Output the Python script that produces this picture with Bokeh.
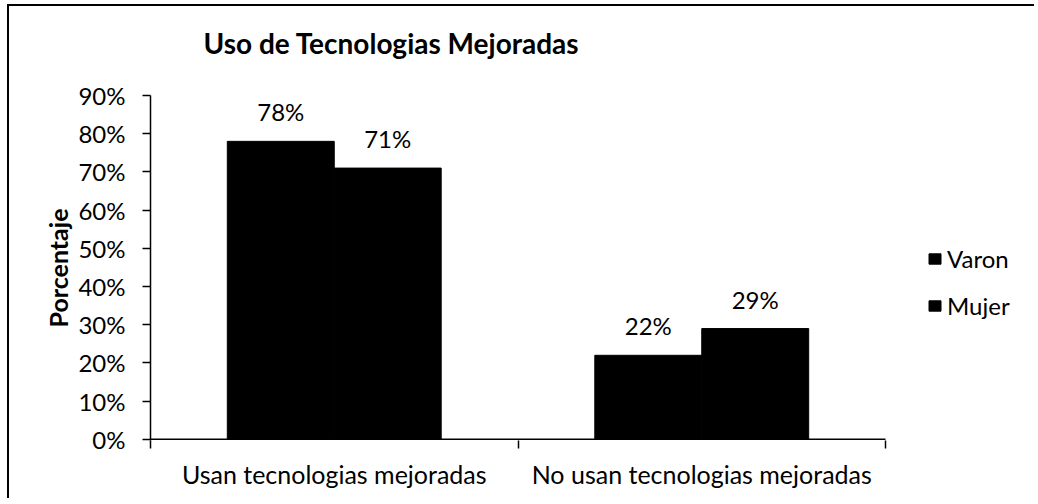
from bokeh.plotting import figure
from bokeh.models import (ColumnDataSource, Range1d, FixedTicker, NumeralTickFormatter,
                          LabelSet, Legend, LegendItem, Title)
from bokeh.core.properties import value
from bokeh.transform import dodge
from bokeh.embed import file_html
from bokeh.resources import INLINE

# ---- data ----
categories = ["Usan tecnologias mejoradas", "No usan tecnologias mejoradas"]
series_names = ["Varon", "Mujer"]
varon = [0.78, 0.22]
mujer = [0.71, 0.29]
y_ticks = [0.0, 0.1, 0.2, 0.3, 0.4, 0.5, 0.6, 0.7, 0.8, 0.9]
title_text = "Uso de Tecnologias  Mejoradas"
y_label = "Porcentaje"

FONT = "Lato"
FS = "24px"

# layout geometry (pixels)
CANVAS_W = 1027
BORDER_L = 141
AXIS_W = 735            # width of the category axis
FRAME_W = CANVAS_W - BORDER_L   # frame extends under the legend area
x_end = len(categories) * FRAME_W / AXIS_W

pos = [i + 0.5 for i in range(len(categories))]
source = ColumnDataSource(data=dict(
    pos=pos,
    varon=varon,
    mujer=mujer,
    varon_lbl=[f"{round(v * 100)}%" for v in varon],
    mujer_lbl=[f"{round(v * 100)}%" for v in mujer],
))

p = figure(width=CANVAS_W, height=494, output_backend="svg", toolbar_location=None,
           x_range=Range1d(0, x_end), y_range=Range1d(-0.003, max(y_ticks)),
           min_border_left=BORDER_L, min_border_right=0, min_border_top=89,
           min_border_bottom=60, title=None)

p.styles = {"margin-left": "7px", "margin-top": "4px",
            "border-top": "2px solid black", "border-left": "2px solid black"}

bw = 0.291
r1 = p.vbar(x=dodge("pos", -bw / 2, range=p.x_range), top="varon", width=bw,
            source=source, fill_color="black", line_color="black")
r2 = p.vbar(x=dodge("pos", bw / 2, range=p.x_range), top="mujer", width=bw,
            source=source, fill_color="black", line_color="black")

for fld, off in (("varon_lbl", -bw / 2), ("mujer_lbl", bw / 2)):
    yfld = fld.replace("_lbl", "")
    p.add_layout(LabelSet(x=dodge("pos", off, range=p.x_range), y=yfld, text=fld,
                          source=source, text_align="center", text_baseline="alphabetic",
                          y_offset=20, text_font=value(FONT), text_font_size=value(FS),
                          text_color="black"))

# category axis baseline: spans only the categories
p.segment(x0=[0], x1=[len(categories)], y0=[0], y1=[0], line_color="black",
          line_width=1.5)

# title; a blank second line lifts it above the plot area
main_title = Title(text=title_text + "\n ", text_font=FONT, text_font_size="28px",
                   text_font_style="bold", text_color="black", align="left",
                   offset=53, standoff=4)
p.add_layout(main_title, "above")

# grid / outline
p.xgrid.visible = False
p.ygrid.visible = False
p.outline_line_color = None
p.background_fill_color = "white"
p.border_fill_color = "white"

# y axis
ya = p.yaxis[0]
ya.ticker = FixedTicker(ticks=y_ticks)
ya.formatter = NumeralTickFormatter(format="0%")
ya.major_label_text_font = FONT
ya.major_label_text_font_size = FS
ya.major_label_text_color = "black"
ya.major_tick_out = 8
ya.major_tick_in = 0
ya.major_tick_line_width = 1.5
ya.minor_tick_line_color = None
ya.axis_line_width = 1.5
ya.axis_line_color = "black"
ya.major_label_standoff = 17
ya.axis_label = y_label
ya.axis_label_text_font = FONT
ya.axis_label_text_font_size = "25px"
ya.axis_label_text_font_style = "bold"
ya.axis_label_text_color = "black"
ya.axis_label_standoff = 2

# x axis
xa = p.xaxis[0]
xa.ticker = FixedTicker(ticks=pos, minor_ticks=list(range(len(categories) + 1)))
xa.major_label_overrides = {pv: c for pv, c in zip(pos, categories)}
xa.major_label_text_font = FONT
xa.major_label_text_font_size = "25px"
xa.major_label_text_color = "black"
xa.major_tick_line_color = None
xa.minor_tick_out = 8
xa.minor_tick_in = 0
xa.minor_tick_line_width = 1.5
xa.minor_tick_line_color = "black"
xa.axis_line_color = None
xa.major_label_standoff = 10

legend = Legend(items=[LegendItem(label=series_names[0], renderers=[r1]),
                       LegendItem(label=series_names[1], renderers=[r2])],
                location=(777, 120), orientation="vertical")
legend.glyph_width = 15
legend.glyph_height = 13
legend.label_text_font = FONT
legend.label_text_font_size = FS
legend.label_text_color = "black"
legend.label_standoff = 5
legend.spacing = 18
legend.padding = 0
legend.margin = 0
legend.border_line_color = None
legend.background_fill_alpha = 0
p.add_layout(legend)

open("out.html", "w").write(file_html(p, INLINE))
